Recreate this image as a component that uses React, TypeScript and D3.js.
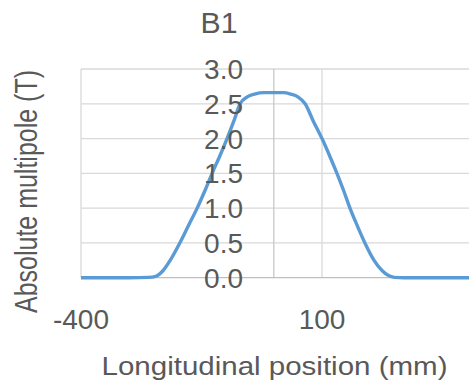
import React from "react";
import * as d3 from "d3";

// Longitudinal profile of the B1 multipole
const positions = [
  -400, -300, -260, -245, -230, -215, -195, -177, -159, -143, -128, -112, -97, -83, -70, -55, -40,
  -20, 0, 20, 35, 50, 65, 82, 100, 116, 131, 145, 158, 173, 189, 208, 225, 238, 250, 270, 400, 600,
];
const b1Values = [
  0, 0, 0.005, 0.02, 0.1, 0.25, 0.5, 0.75, 1.0, 1.25, 1.5, 1.75, 2.0, 2.25, 2.5, 2.6, 2.64,
  2.66, 2.66, 2.66, 2.64, 2.6, 2.5, 2.25, 2.0, 1.75, 1.5, 1.25, 1.0, 0.75, 0.5, 0.25, 0.1, 0.03, 0.005, 0, 0, 0,
];
const yTicks = [0, 0.5, 1.0, 1.5, 2.0, 2.5, 3.0];
const xGrid = [-400, 100, 600];
const xTicks = [-400, 100];
const xTickLabels = ["-400", "100"];

const W = 469;
const H = 383;
const TEXT = "#595959";
const FONT = "'Liberation Sans', Arial, sans-serif";

export default function App() {
  const x = d3.scaleLinear().domain([-400, 600]).range([81, 563]);
  const y = d3.scaleLinear().domain([0, 3]).range([277.7, 69]);

  const data = positions.map((p, i) => [p, b1Values[i]] as [number, number]);
  const line = d3
    .line<[number, number]>()
    .x((d) => x(d[0]))
    .y((d) => y(d[1]))
    .curve(d3.curveMonotoneX);

  return (
    <svg
      width={W}
      height={H}
      style={{ position: "absolute", left: 0, top: 0, background: "#fff" }}
    >
      <rect width={W} height={H} fill="#fff" />
      {/* horizontal gridlines */}
      {yTicks.map((t) =>
        t === 0 ? null : (
          <line key={"gy" + t} x1={x(-400)} x2={x(600)} y1={y(t)} y2={y(t)} stroke="#d9d9d9" strokeWidth={1.3} />
        )
      )}
      {/* vertical gridlines */}
      {xGrid.map((t) => (
        <line key={"gx" + t} x1={x(t)} x2={x(t)} y1={y(3)} y2={y(0)} stroke="#d9d9d9" strokeWidth={1.3} />
      ))}
      {/* axis lines: value axis crosses at position 0 */}
      <line x1={x(0)} x2={x(0)} y1={y(3)} y2={y(0)} stroke="#c8c8c8" strokeWidth={1.3} />
      <line x1={x(-400)} x2={x(600)} y1={y(0)} y2={y(0)} stroke="#bfbfbf" strokeWidth={1.3} />

      {/* series */}
      <path d={line(data) ?? ""} fill="none" stroke="#5b9bd5" strokeWidth={3.4} strokeLinejoin="round" />

      {/* y tick labels, placed beside the axis at position 0 */}
      {yTicks.map((t) => (
        <text
          key={"ty" + t}
          x={243}
          y={y(t) + 10}
          textAnchor="end"
          fontFamily={FONT}
          fontSize={28}
          fill={TEXT}
        >
          {t.toFixed(1)}
        </text>
      ))}

      {/* x tick labels */}
      {xTicks.map((t, i) => (
        <text
          key={"tx" + t}
          x={x(t)}
          y={329}
          textAnchor="middle"
          fontFamily={FONT}
          fontSize={28}
          fill={TEXT}
        >
          {xTickLabels[i]}
        </text>
      ))}

      {/* title */}
      <text x={219} y={33} textAnchor="middle" fontFamily={FONT} fontSize={29} fill={TEXT} textLength={37} lengthAdjust="spacingAndGlyphs">
        B1
      </text>

      {/* axis titles */}
      <text x={101.5} y={375} fontFamily={FONT} fontSize={25.5} fill={TEXT} textLength={346} lengthAdjust="spacingAndGlyphs">
        Longitudinal position (mm)
      </text>
      <text
        transform="translate(37,313) rotate(-90)"
        x={0}
        y={0}
        fontFamily={FONT}
        fontSize={30.5}
        fill={TEXT}
        textLength={243}
        lengthAdjust="spacingAndGlyphs"
      >
        Absolute multipole (T)
      </text>
    </svg>
  );
}
